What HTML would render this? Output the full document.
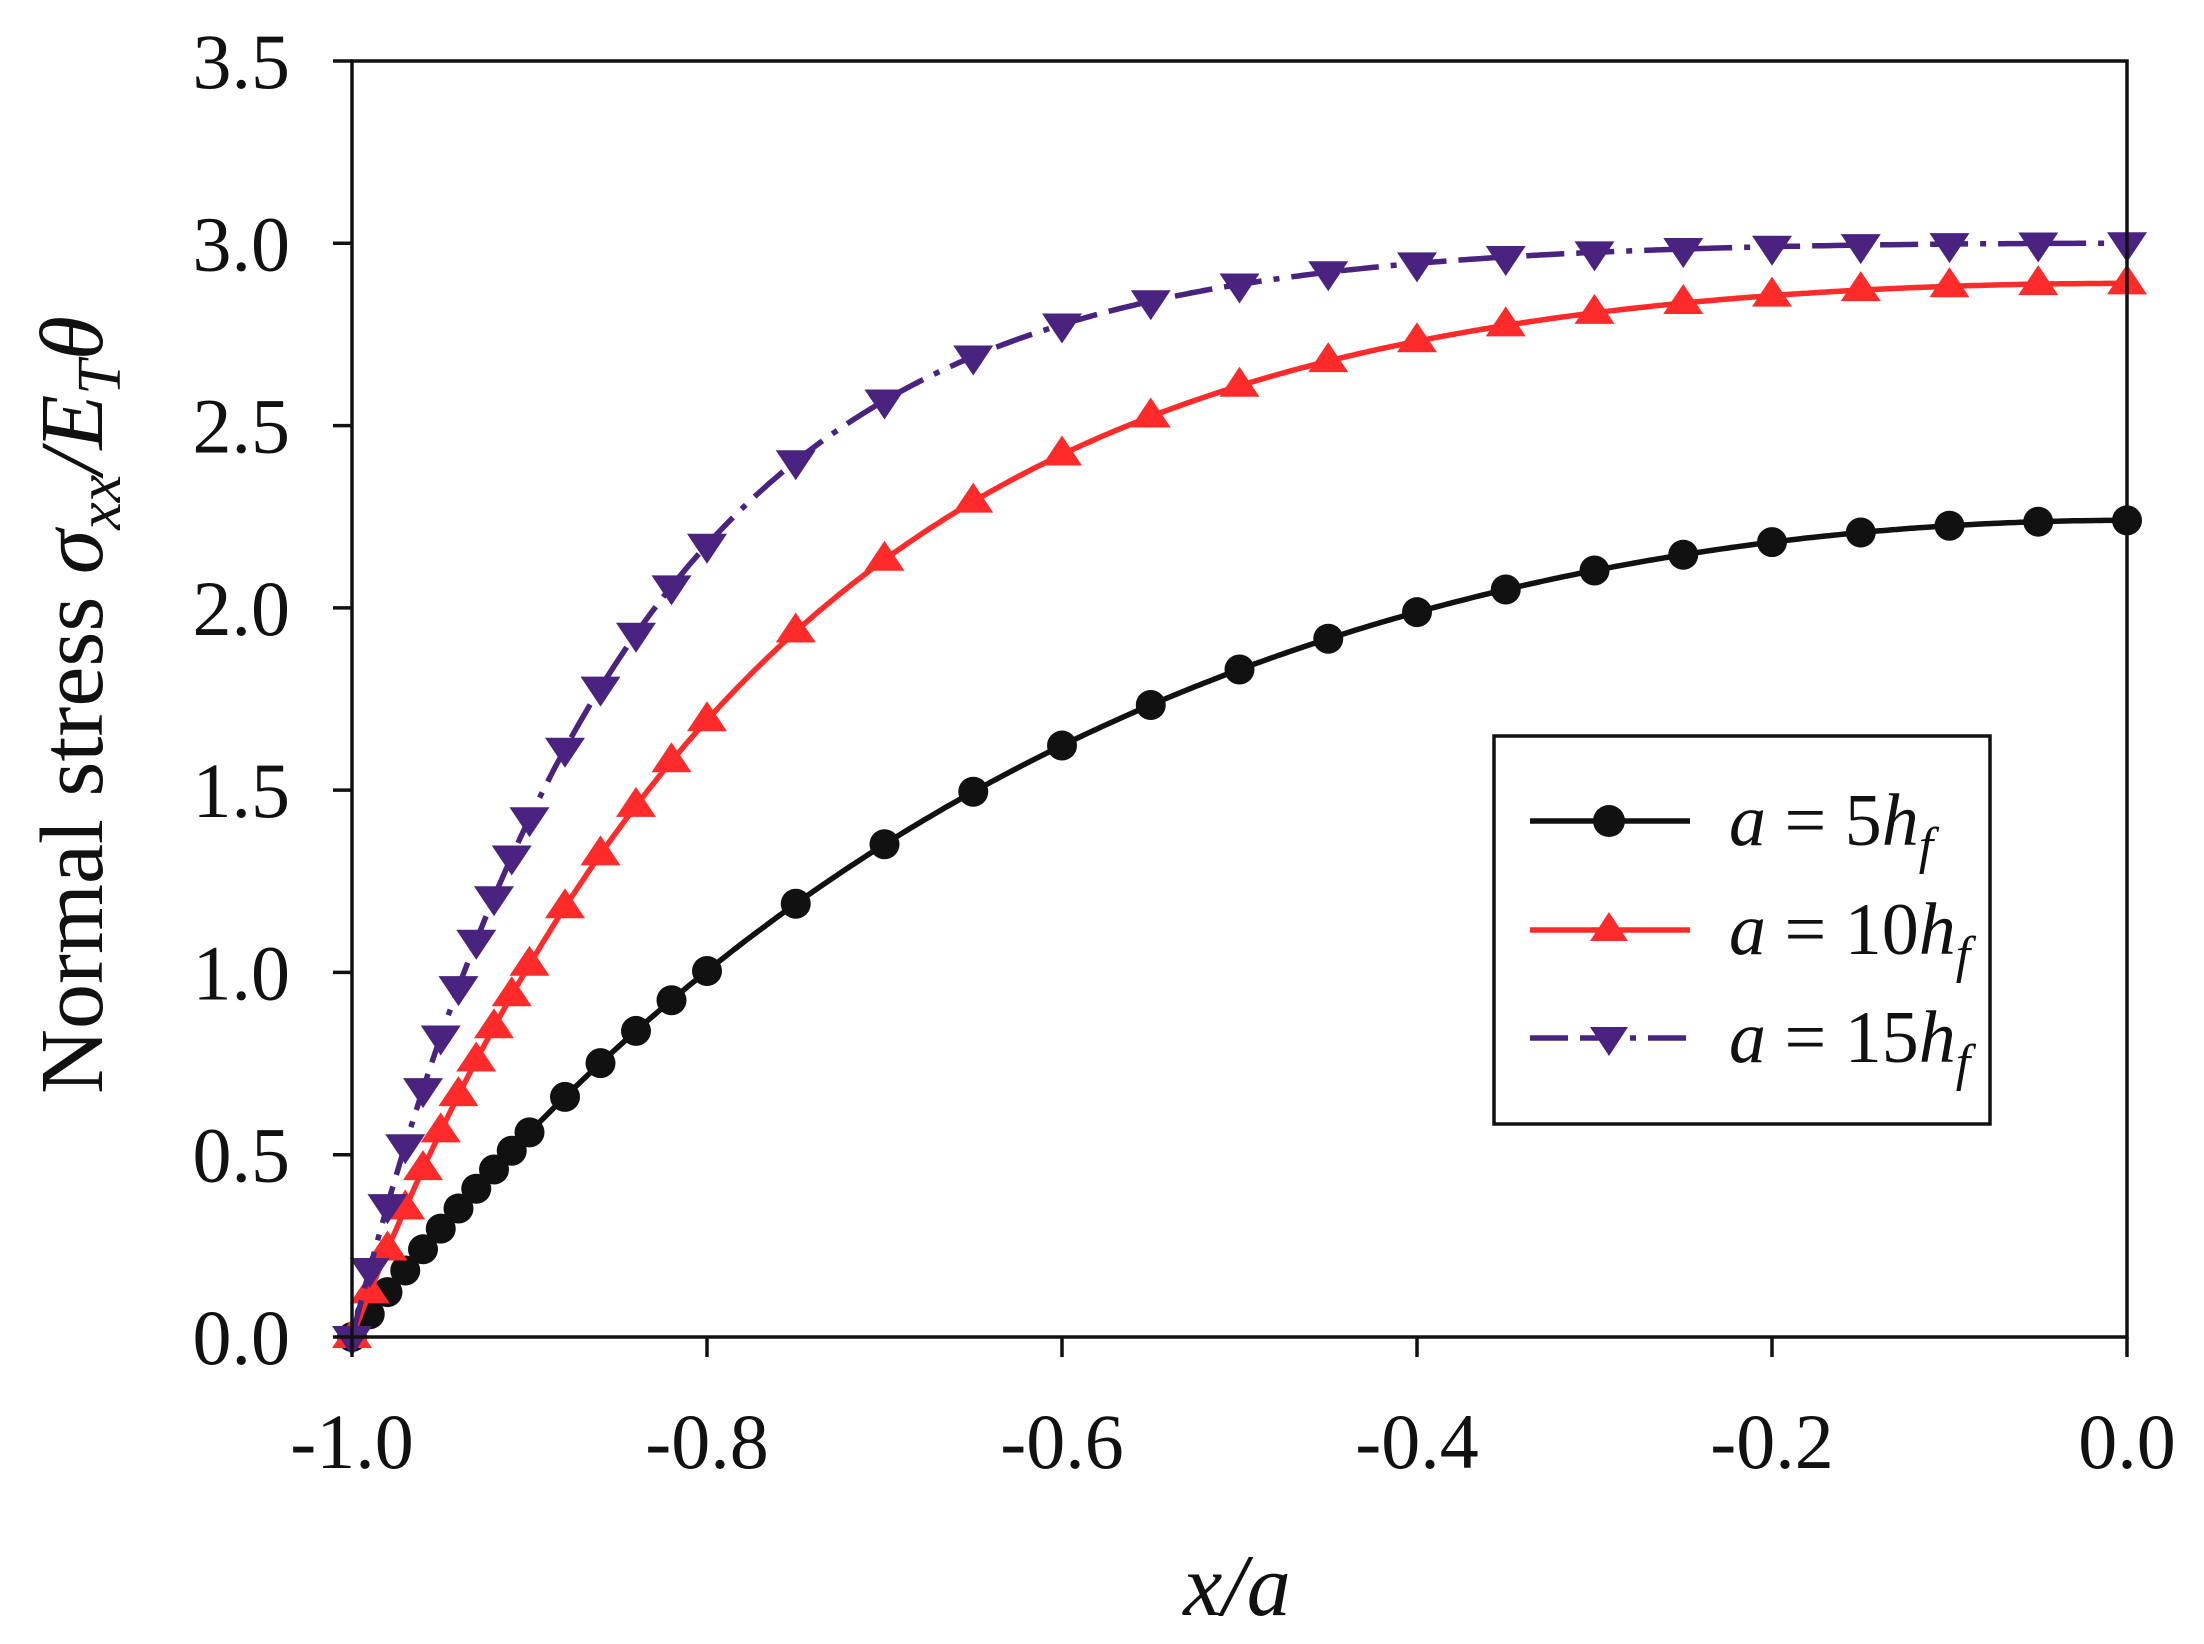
<!DOCTYPE html>
<html><head><meta charset="utf-8"><style>
html,body{margin:0;padding:0;background:#fff;}
svg{display:block;}
text{font-family:"Liberation Serif",serif;fill:#111;}
</style></head><body>
<svg id="s" width="2204" height="1644" viewBox="0 0 2204 1644" xmlns="http://www.w3.org/2000/svg">
<rect width="2204" height="1644" fill="#fff"/>
<g id="curves"></g>
<rect x="352" y="61" width="1775" height="1276" fill="none" stroke="#111" stroke-width="3.5"/>
<g id="ticks" stroke="#111" stroke-width="3.5"></g>
<g id="labels" font-size="78"></g>
<text x="1237" y="1615" font-size="88" text-anchor="middle" font-style="italic">x/a</text>
<text transform="translate(102,705) rotate(-90)" font-size="90" text-anchor="middle">Normal stress <tspan font-style="italic">σ</tspan><tspan font-style="italic" font-size="62" dy="18">xx</tspan><tspan dy="-18" font-style="italic">/E</tspan><tspan font-style="italic" font-size="62" dy="18">T</tspan><tspan dy="-18" font-style="italic">θ</tspan></text>
<rect x="1494" y="736" width="496" height="388" fill="#fff" stroke="#111" stroke-width="3.5"/>
<line x1="1530" y1="821" x2="1690" y2="821" stroke="#111" stroke-width="5.5"/>
<circle cx="1609" cy="821" r="16" fill="#111"/>
<line x1="1530" y1="930" x2="1690" y2="930" stroke="#ff2a2a" stroke-width="5.5"/>
<polygon points="1609,912 1628,941 1590,941" fill="#ff2a2a"/>
<line x1="1530" y1="1038" x2="1690" y2="1038" stroke="#4a2380" stroke-width="5.5" stroke-dasharray="38,12,38,12,6,12"/>
<polygon points="1590,1027 1628,1027 1609,1056" fill="#4a2380"/>
<g font-size="74" font-style="italic">
<text x="1729" y="845">a <tspan font-style="normal">= 5</tspan>h<tspan font-size="52" dy="18">f</tspan></text>
<text x="1729" y="954">a <tspan font-style="normal">= 10</tspan>h<tspan font-size="52" dy="18">f</tspan></text>
<text x="1729" y="1062">a <tspan font-style="normal">= 15</tspan>h<tspan font-size="52" dy="18">f</tspan></text>
</g>
</svg>
<script>
var NS="http://www.w3.org/2000/svg";
function X(v){return 352+(v+1)*1775;}
function Y(v){return 1337-v*364.57;}
function el(p,n,a){var e=document.createElementNS(NS,n);for(var k in a)e.setAttribute(k,a[k]);p.appendChild(e);return e;}
var tk=document.getElementById('ticks'),lb=document.getElementById('labels');
for(var i=0;i<=7;i++){var v=i*0.5,y=Y(v);el(tk,'line',{x1:333,y1:y,x2:352,y2:y});
 var t=el(lb,'text',{x:290,y:y+27,'text-anchor':'end'});t.textContent=v.toFixed(1);}
for(var i=0;i<=5;i++){var v=-1+i*0.2,x=X(v);el(tk,'line',{x1:x,y1:1337,x2:x,y2:1357});
 var t=el(lb,'text',{x:x,y:1468,'text-anchor':'middle'});t.textContent=(Math.abs(v)<1e-9?"0.0":v.toFixed(1));}
var xs=[];for(var i=0;i<=10;i++)xs.push(-1+i*0.01);
[-0.88,-0.86,-0.84,-0.82,-0.8].forEach(function(v){xs.push(v)});
for(var i=1;i<=16;i++)xs.push(-0.8+i*0.05);
function f(k,c){var C=c/(1-1/Math.cosh(k));return function(x){return C*(1-Math.cosh(k*x)/Math.cosh(k));};}
var series=[{fn:f(2.3,2.24),col:'#111',m:'c',d:''},{fn:f(4.2,2.89),col:'#ff2a2a',m:'u',d:''},{fn:f(6.4,3.0),col:'#4a2380',m:'d',d:'38,12,38,12,6,12'}];
var g=document.getElementById('curves');
series.forEach(function(s){
 var pts=[];for(var i=0;i<=400;i++){var x=-1+i/400;pts.push(X(x).toFixed(1)+','+Y(s.fn(x)).toFixed(1));}
 var a={points:pts.join(' '),fill:'none',stroke:s.col,'stroke-width':5.5};if(s.d)a['stroke-dasharray']=s.d;
 el(g,'polyline',a);
 xs.forEach(function(x){var cx=X(x),cy=Y(s.fn(x));
  if(s.m=='c')el(g,'circle',{cx:cx,cy:cy,r:15,fill:s.col});
  else if(s.m=='u')el(g,'polygon',{points:cx+','+(cy-19)+' '+(cx+20)+','+(cy+11)+' '+(cx-20)+','+(cy+11),fill:s.col});
  else el(g,'polygon',{points:(cx-20)+','+(cy-11)+' '+(cx+20)+','+(cy-11)+' '+cx+','+(cy+19),fill:s.col});
 });
});
</script>
</body></html>
